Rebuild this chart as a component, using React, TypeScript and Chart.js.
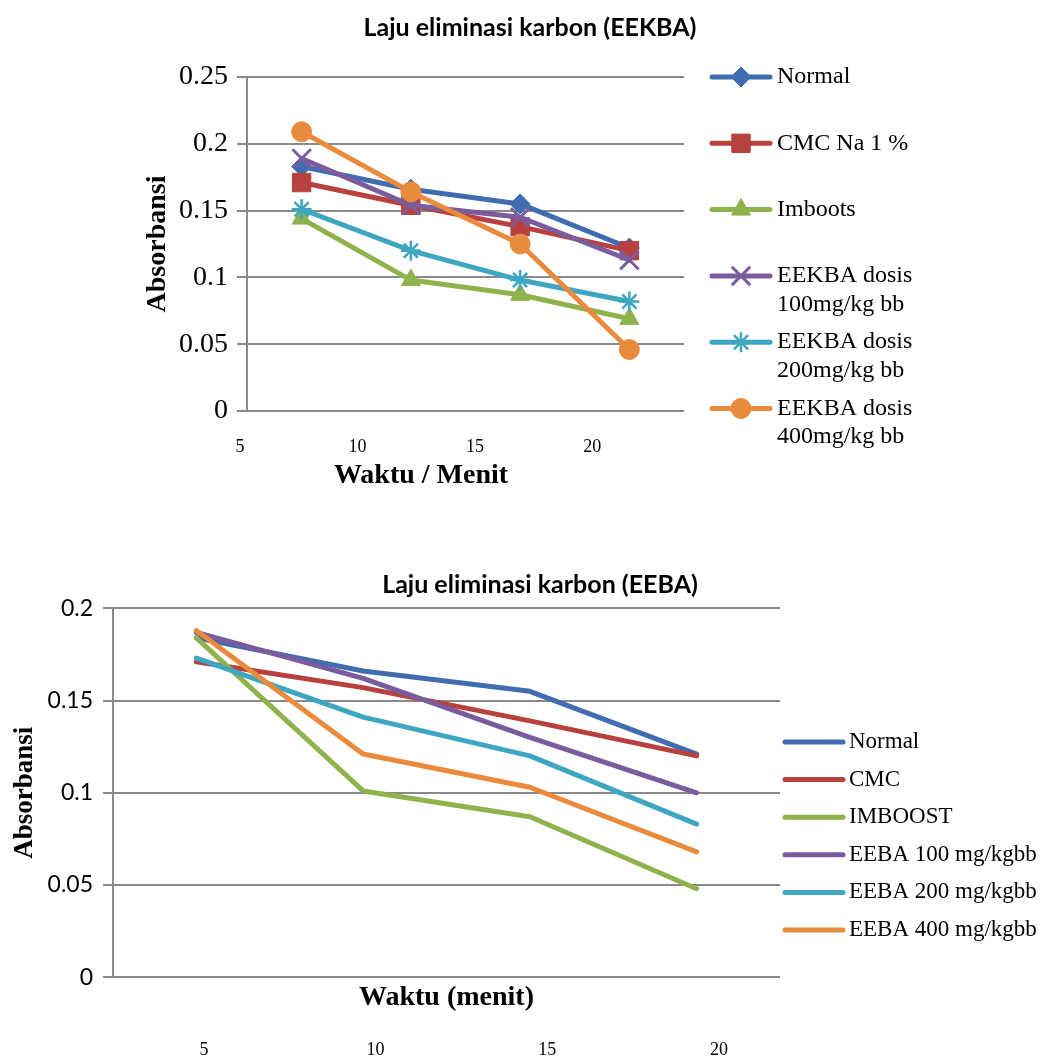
import React, { useEffect, useRef } from 'react';
import { Chart, registerables } from 'chart.js';
import { drawPoint } from 'chart.js/helpers';

Chart.register(...registerables);

// ---------- data ----------
const timeCategories = ['5', '10', '15', '20'];
const xTickLabels = [5, 10, 15, 20];
const yTicksTop = [0, 0.05, 0.1, 0.15, 0.2, 0.25];
const yTicksBottom = [0, 0.05, 0.1, 0.15, 0.2];

const titleTop = 'Laju eliminasi karbon (EEKBA)';
const titleBottom = 'Laju eliminasi karbon (EEBA)';

const namesTop = [
  ['Normal'],
  ['CMC Na 1 %'],
  ['Imboots'],
  ['EEKBA dosis', '100mg/kg bb'],
  ['EEKBA dosis', '200mg/kg bb'],
  ['EEKBA dosis', '400mg/kg bb'],
];
const normalTop = [0.183, 0.166, 0.155, 0.122];
const cmcTop = [0.171, 0.154, 0.138, 0.12];
const imbootsTop = [0.144, 0.098, 0.087, 0.069];
const eekba100 = [0.189, 0.154, 0.145, 0.113];
const eekba200 = [0.151, 0.12, 0.098, 0.082];
const eekba400 = [0.209, 0.164, 0.125, 0.046];

const namesBottom = [
  'Normal',
  'CMC',
  'IMBOOST',
  'EEBA 100 mg/kgbb',
  'EEBA 200 mg/kgbb',
  'EEBA 400 mg/kgbb',
];
const normalBottom = [0.184, 0.166, 0.155, 0.121];
const cmcBottom = [0.171, 0.157, 0.139, 0.12];
const imboostBottom = [0.184, 0.101, 0.087, 0.048];
const eeba100 = [0.187, 0.162, 0.13, 0.1];
const eeba200 = [0.173, 0.141, 0.12, 0.083];
const eeba400 = [0.188, 0.121, 0.103, 0.068];

// ---------- styles ----------
const COLORS = ['#3F6DB0', '#B8403D', '#8EB24C', '#7A5C9E', '#3FA6C2', '#EA8A3C'];
const MARKERS = [
  { style: 'rectRot', r: 10, bw: 1 },
  { style: 'rect', r: 13, bw: 1 },
  { style: 'triangle', r: 11, bw: 1 },
  { style: 'crossRot', r: 13, bw: 3 },
  { style: 'star', r: 10, bw: 2.5 },
  { style: 'circle', r: 10, bw: 1 },
];
const GRID = '#8A8A8A';
const SERIF = "'Liberation Serif', 'Times New Roman', serif";
const SANS = "Lato, 'Open Sans', sans-serif";

type TextItem = { text: string; x: number; y: number; font: string };
type LegendCfg = {
  x0: number;
  x1: number;
  textX: number;
  y0: number;
  step: number;
  lineGap: number;
  font: string;
  lineWidth: number;
  cap: CanvasLineCap;
  labels: string[][];
  markers: boolean;
};

function makeOverlay(texts: TextItem[], lg: LegendCfg) {
  return {
    id: 'overlay',
    afterDraw(chart: any) {
      const ctx: CanvasRenderingContext2D = chart.ctx;
      ctx.save();
      for (const t of texts) {
        ctx.font = t.font;
        ctx.fillStyle = '#000';
        ctx.textAlign = 'center';
        ctx.textBaseline = 'middle';
        ctx.fillText(t.text, t.x, t.y);
      }
      chart.data.datasets.forEach((ds: any, i: number) => {
        const y = lg.y0 + i * lg.step;
        ctx.strokeStyle = ds.borderColor;
        ctx.lineWidth = lg.lineWidth;
        ctx.lineCap = lg.cap;
        ctx.beginPath();
        ctx.moveTo(lg.x0, y);
        ctx.lineTo(lg.x1, y);
        ctx.stroke();
        if (lg.markers && ds.pointRadius > 0) {
          ctx.lineCap = 'butt';
          ctx.fillStyle = ds.pointBackgroundColor;
          ctx.strokeStyle = ds.pointBorderColor;
          ctx.lineWidth = ds.pointBorderWidth;
          drawPoint(
            ctx,
            { pointStyle: ds.pointStyle, radius: ds.pointRadius, borderWidth: ds.pointBorderWidth, rotation: 0 } as any,
            (lg.x0 + lg.x1) / 2,
            y
          );
        }
        ctx.font = lg.font;
        ctx.fillStyle = '#000';
        ctx.textAlign = 'left';
        ctx.textBaseline = 'middle';
        lg.labels[i].forEach((ln, k) => ctx.fillText(ln, lg.textX, y + k * lg.lineGap));
      });
      ctx.restore();
    },
  };
}

function topConfig(): any {
  const series = [normalTop, cmcTop, imbootsTop, eekba100, eekba200, eekba400];
  return {
    type: 'line',
    data: {
      labels: timeCategories,
      datasets: series.map((d, i) => ({
        label: namesTop[i].join(' '),
        data: d,
        xAxisID: 'x',
        yAxisID: 'y',
        borderColor: COLORS[i],
        backgroundColor: COLORS[i],
        borderWidth: 5,
        borderJoinStyle: 'round',
        borderCapStyle: 'round',
        pointStyle: MARKERS[i].style,
        pointRadius: MARKERS[i].r,
        pointHoverRadius: MARKERS[i].r,
        pointBackgroundColor: COLORS[i],
        pointBorderColor: COLORS[i],
        pointBorderWidth: MARKERS[i].bw,
        tension: 0,
        order: series.length - i,
      })),
    },
    options: {
      responsive: false,
      animation: false,
      layout: { padding: { left: 141, right: 371, top: 77, bottom: 39 } },
      plugins: { legend: { display: false }, tooltip: { enabled: false }, title: { display: false } },
      scales: {
        x: { type: 'category', display: false, offset: true },
        x2: {
          type: 'linear',
          position: 'bottom',
          min: 5.3,
          max: 23.9,
          afterBuildTicks: (s: any) => {
            s.ticks = xTickLabels.map((v) => ({ value: v }));
          },
          afterFit: (s: any) => {
            s.height = 50;
          },
          ticks: { font: { family: SERIF, size: 18 }, color: '#000', padding: 25, maxRotation: 0, autoSkip: false },
          grid: { display: false, drawTicks: false },
          border: { display: false },
        },
        y: {
          min: 0,
          max: 0.25,
          afterBuildTicks: (s: any) => {
            s.ticks = yTicksTop.map((v) => ({ value: v }));
          },
          afterFit: (s: any) => {
            s.width = 106;
          },
          ticks: {
            font: { family: SERIF, size: 28 },
            color: '#000',
            padding: 9,
            callback: (v: number) => String(v),
          },
          grid: { color: GRID, lineWidth: 2, tickLength: 10 },
          border: { display: true, color: GRID, width: 2 },
          title: {
            display: true,
            text: 'Absorbansi',
            font: { family: SERIF, size: 28, weight: 'bold' },
            color: '#000',
            padding: 0,
          },
        },
      },
    },
    plugins: [
      makeOverlay(
        [
          { text: titleTop, x: 530, y: 28, font: `bold 25px ${SANS}` },
          { text: 'Waktu / Menit', x: 421, y: 476, font: `bold 28px ${SERIF}` },
        ],
        {
          x0: 712,
          x1: 770,
          textX: 777,
          y0: 77,
          step: 66.3,
          lineGap: 28.5,
          font: `24px ${SERIF}`,
          lineWidth: 5,
          cap: 'round',
          labels: namesTop,
          markers: true,
        }
      ),
    ],
  };
}

function bottomConfig(): any {
  const series = [normalBottom, cmcBottom, imboostBottom, eeba100, eeba200, eeba400];
  return {
    type: 'line',
    data: {
      labels: timeCategories,
      datasets: series.map((d, i) => ({
        label: namesBottom[i],
        data: d,
        xAxisID: 'x',
        yAxisID: 'y',
        borderColor: COLORS[i],
        backgroundColor: COLORS[i],
        borderWidth: 5,
        borderJoinStyle: 'round',
        borderCapStyle: 'round',
        pointRadius: 0,
        pointHoverRadius: 0,
        tension: 0,
        order: series.length - i,
      })),
    },
    options: {
      responsive: false,
      animation: false,
      layout: { padding: { left: 9, right: 275, top: 68.3, bottom: 0 } },
      plugins: { legend: { display: false }, tooltip: { enabled: false }, title: { display: false } },
      scales: {
        x: {
          type: 'category',
          position: 'bottom',
          offset: true,
          weight: 0,
          ticks: { display: false },
          grid: { display: false, drawTicks: false },
          border: { display: false },
          afterFit: (s: any) => {
            s.height = 37.5;
          },
          title: {
            display: true,
            text: 'Waktu (menit)',
            font: { family: SERIF, size: 28, weight: 'bold' },
            color: '#000',
            padding: 0,
          },
        },
        x2: {
          type: 'linear',
          position: 'bottom',
          weight: 1,
          min: 2.35,
          max: 21.78,
          afterBuildTicks: (s: any) => {
            s.ticks = xTickLabels.map((v) => ({ value: v }));
          },
          afterFit: (s: any) => {
            s.height = 42.2;
          },
          ticks: { font: { family: SERIF, size: 18 }, color: '#000', padding: 25, maxRotation: 0, autoSkip: false },
          grid: { display: false, drawTicks: false },
          border: { display: false },
        },
        y: {
          min: 0,
          max: 0.2,
          afterBuildTicks: (s: any) => {
            s.ticks = yTicksBottom.map((v) => ({ value: v }));
          },
          afterFit: (s: any) => {
            s.width = 104;
          },
          ticks: {
            font: { family: SANS, size: 23 },
            color: '#000',
            padding: 10,
            callback: (v: number) => String(v),
          },
          grid: { color: GRID, lineWidth: 2, tickLength: 10 },
          border: { display: true, color: GRID, width: 2 },
          title: {
            display: true,
            text: 'Absorbansi',
            font: { family: SERIF, size: 27, weight: 'bold' },
            color: '#000',
            padding: 0,
          },
        },
      },
    },
    plugins: [
      makeOverlay([{ text: titleBottom, x: 540, y: 45, font: `bold 25px ${SANS}` }], {
        x0: 785,
        x1: 843,
        textX: 849,
        y0: 202,
        step: 37.6,
        lineGap: 0,
        font: `23px ${SERIF}`,
        lineWidth: 5,
        cap: 'round',
        labels: namesBottom.map((n) => [n]),
        markers: false,
      }),
    ],
  };
}

function ChartCanvas({ make, top, height }: { make: () => any; top: number; height: number }) {
  const ref = useRef<HTMLCanvasElement>(null);
  useEffect(() => {
    const chart = new Chart(ref.current as HTMLCanvasElement, make());
    return () => chart.destroy();
  }, []);
  return (
    <canvas
      ref={ref}
      width={1055}
      height={height}
      style={{ position: 'absolute', left: 0, top, width: 1055, height, display: 'block' }}
    />
  );
}

export default function App() {
  return (
    <div
      style={{
        position: 'fixed',
        left: 0,
        top: 0,
        width: 1055,
        height: 1057,
        overflow: 'hidden',
        background: '#fff',
      }}
    >
      <ChartCanvas make={topConfig} top={0} height={500} />
      <ChartCanvas make={bottomConfig} top={540} height={517} />
    </div>
  );
}
